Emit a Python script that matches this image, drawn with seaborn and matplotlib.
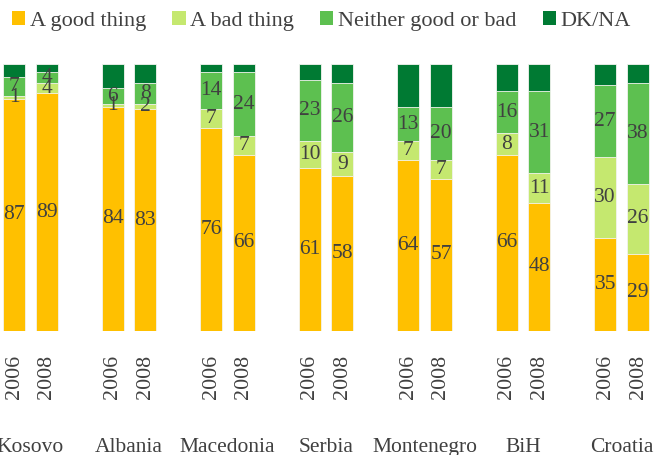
import matplotlib
matplotlib.use("Agg")
import matplotlib.pyplot as plt
from matplotlib.patches import Patch
import pandas as pd
import seaborn as sns

# survey answers per country, 2006 and 2008 (percent)
countries = ["Kosovo", "Albania", "Macedonia", "Serbia", "Montenegro", "BiH", "Croatia"]
years = ["2006", "2008"]
good = [87, 89, 84, 83, 76, 66, 61, 58, 64, 57, 66, 48, 35, 29]
bad = [1, 4, 1, 2, 7, 7, 10, 9, 7, 7, 8, 11, 30, 26]
neither = [7, 4, 6, 8, 14, 24, 23, 26, 13, 20, 16, 31, 27, 38]
dk = [5, 3, 9, 7, 3, 3, 6, 7, 16, 16, 10, 10, 8, 7]

responses = ["A good thing", "A bad thing", "Neither good or bad", "DK/NA"]
colors = ["#FFC000", "#C5E86F", "#5DC050", "#007A33"]
text_color = "#404040"
fs = 15.5

sns.set_style("white")
plt.rcParams["font.family"] = ["Liberation Serif", "DejaVu Serif"]

# one empty slot between countries, like the excel category axis
positions = [3 * g + j for g in range(len(countries)) for j in range(len(years))]
df = pd.DataFrame({"pos": positions, "good": good, "bad": bad,
                   "neither": neither, "dk": dk})
cols = ["good", "bad", "neither", "dk"]
cum = df[cols].cumsum(axis=1)

fig = plt.figure(figsize=(6.55, 4.55), dpi=100)
ax = fig.add_axes([0, 1 - 331 / 455, 1, 267 / 455])

# draw the cumulative totals from tallest to shortest -> stacked look
for col, color in reversed(list(zip(cols, colors))):
    sns.barplot(x=df["pos"], y=cum[col], color=color, saturation=1, width=0.67,
                native_scale=True, orient="x", errorbar=None,
                edgecolor="#f4f4f0", linewidth=0.6, ax=ax)

for i, p in enumerate(positions):
    base = 0
    for col in cols[:3]:
        v = df[col][i]
        ax.text(p, base + v / 2, str(v), ha="center", va="center",
                fontsize=fs, color=text_color)
        base += v

ax.set_ylim(0, 100)
ax.set_yticks([])
ax.set_xticks(positions, [years[j] for g in range(len(countries)) for j in range(len(years))],
              rotation=90, fontsize=15.8, color=text_color)
ax.tick_params(axis="x", length=0, pad=17)
unit = (638 - 14) / 19
ax.set_xlim(-14 / unit, -14 / unit + 655 / unit)
ax.set_xlabel("")
ax.set_ylabel("")
for s in ax.spines.values():
    s.set_visible(False)

for g, country in enumerate(countries):
    ax.text(3 * g + 0.5, -0.40, country, transform=ax.get_xaxis_transform(),
            ha="center", va="top", fontsize=fs, color=text_color)

handles = [Patch(facecolor=c, edgecolor="none") for c in colors]
fig.legend(handles, responses, loc="upper left", bbox_to_anchor=(12 / 655, 1 - 11 / 455),
           ncol=4, frameon=False, fontsize=16, labelcolor=text_color,
           handlelength=0.6, handleheight=0.6, handletextpad=0.2,
           columnspacing=1.18, borderpad=0, borderaxespad=0)

fig.savefig("out.png", dpi=100)
